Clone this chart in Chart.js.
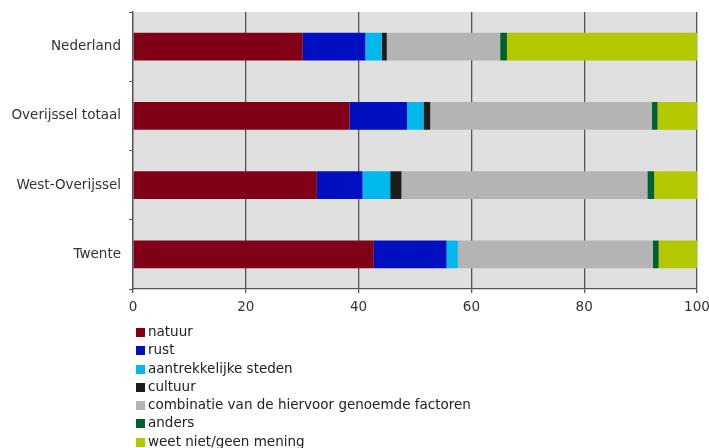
<!DOCTYPE html>
<html>
<head>
<meta charset="utf-8">
<script src="https://cdn.jsdelivr.net/npm/chart.js@4"></script>
<style>
  html, body { margin: 0; padding: 0; background: #fff; }
  #wrap { position: relative; width: 709px; height: 448px; }
  #legend { position: absolute; left: 136px; top: 322px; font: 13.5px "DejaVu Sans", Verdana, sans-serif; color: #222; }
  #legend div { height: 18.3px; line-height: 18px; white-space: nowrap; }
  #legend span.box { display: inline-block; width: 9px; height: 9px; margin-right: 3px; vertical-align: -1px; }
</style>
</head>
<body>
<div id="wrap">
  <canvas id="chart" width="709" height="448"></canvas>
  <div id="legend"></div>
</div>
<script>
// categories and series (percentages)
const regions = ["Nederland", "Overijssel totaal", "West-Overijssel", "Twente"];
const seriesNames = ["natuur", "rust", "aantrekkelijke steden", "cultuur",
  "combinatie van de hiervoor genoemde factoren", "anders", "weet niet/geen mening"];
const natuur = [30.1, 38.4, 32.6, 42.7];
const rust = [11.1, 10.2, 8.1, 12.9];
const steden = [2.9, 2.9, 4.9, 2.0];
const cultuur = [0.9, 1.2, 2.0, 0];
const combinatie = [20.1, 39.3, 43.6, 34.6];
const anders = [1.2, 1.0, 1.2, 1.0];
const weetNiet = [33.7, 7.0, 7.6, 6.8];
const xTicks = [0, 20, 40, 60, 80, 100];

const colors = ["#800018", "#0010c0", "#00b8ec", "#1c1c1c", "#b4b4b4", "#006030", "#b4c800"];
const values = [natuur, rust, steden, cultuur, combinatie, anders, weetNiet];

const plotBg = {
  id: "plotBg",
  beforeDraw(chart) {
    const { ctx, chartArea: a } = chart;
    ctx.save();
    ctx.fillStyle = "#e0e0e0";
    ctx.fillRect(a.left, a.top, a.right - a.left, a.bottom - a.top);
    ctx.restore();
  }
};

const font = { family: "'DejaVu Sans', Verdana, sans-serif", size: 13.5 };

const chart = new Chart(document.getElementById("chart"), {
  type: "bar",
  data: {
    labels: regions,
    datasets: seriesNames.map((name, i) => ({
      label: name,
      data: values[i],
      backgroundColor: colors[i],
      borderWidth: 0,
      barPercentage: 0.4,
      categoryPercentage: 1
    }))
  },
  options: {
    indexAxis: "y",
    responsive: false,
    animation: false,
    layout: { padding: { top: 12, right: 12, left: 0, bottom: 0 } },
    plugins: { legend: { display: false }, tooltip: { enabled: false } },
    scales: {
      x: {
        stacked: true,
        min: 0, max: 100,
        afterBuildTicks: (s) => { s.ticks = xTicks.map((v) => ({ value: v })); },
        afterFit: (s) => { s.height = 448 - 289; s.paddingLeft = 0; s.paddingRight = 0; },
        grid: { color: "#555", lineWidth: 1.3, tickLength: 4, drawOnChartArea: true },
        border: { color: "#555", width: 1.3 },
        ticks: { color: "#333", font, padding: 6 }
      },
      y: {
        stacked: true,
        afterFit: (s) => { s.width = 133; s.paddingTop = 0; s.paddingBottom = 0; },
        grid: { color: "#555", offset: true, drawOnChartArea: false, tickLength: 4 },
        border: { color: "#555", width: 1.3 },
        ticks: { color: "#333", font, padding: 8 }
      }
    }
  },
  plugins: [plotBg]
});

// legend as html list built from the chart datasets
const legendEl = document.getElementById("legend");
chart.data.datasets.forEach((ds) => {
  const row = document.createElement("div");
  const box = document.createElement("span");
  box.className = "box";
  box.style.background = ds.backgroundColor;
  row.appendChild(box);
  row.appendChild(document.createTextNode(ds.label));
  legendEl.appendChild(row);
});
</script>
</body>
</html>
